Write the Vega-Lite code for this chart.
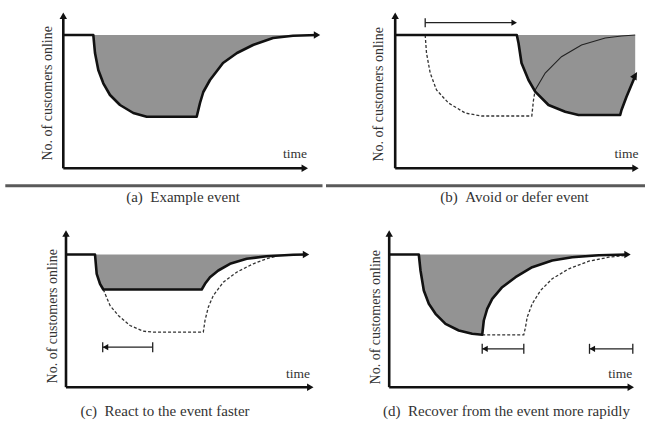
{
  "$schema": "https://vega.github.io/schema/vega-lite/v6.json",
  "padding": 0,
  "spacing": 0,
  "config": {"view": {"stroke": null}, "concat": {"spacing": 0}},
  "datasets": {
    "fig": [
    {"p":"a","s":"frame","t":-63.3,"n":-45.2},{"p":"a","s":"frame","t":259.2,"n":168.3},
    {"p":"b","s":"frame","t":-69.2,"n":-45.2},{"p":"b","s":"frame","t":253.3,"n":168.3},
    {"p":"c","s":"frame","t":-66,"n":-40.3},{"p":"c","s":"frame","t":256.5,"n":173.2},
    {"p":"d","s":"frame","t":-66.2,"n":-40.3},{"p":"d","s":"frame","t":256.3,"n":173.2},

    {"p":"a","s":"thick","t":0,"n":133.3},{"p":"a","s":"thick","t":30,"n":133.3},{"p":"a","s":"thick","t":31.7,"n":115.3},{"p":"a","s":"thick","t":35,"n":98.3},{"p":"a","s":"thick","t":40,"n":85},{"p":"a","s":"thick","t":46.7,"n":73.3},{"p":"a","s":"thick","t":56.7,"n":63.3},{"p":"a","s":"thick","t":70,"n":55.3},{"p":"a","s":"thick","t":83.4,"n":51.6},{"p":"a","s":"thick","t":133.4,"n":51.6},{"p":"a","s":"thick","t":136.7,"n":65.3},{"p":"a","s":"thick","t":140,"n":76.3},{"p":"a","s":"thick","t":146.7,"n":88.3},{"p":"a","s":"thick","t":159.7,"n":105.3},{"p":"a","s":"thick","t":173.7,"n":115.3},{"p":"a","s":"thick","t":189.7,"n":123.3},{"p":"a","s":"thick","t":209.7,"n":130.3},{"p":"a","s":"thick","t":229.7,"n":132.6},{"p":"a","s":"thick","t":254,"n":133.3},

    {"p":"a","s":"hatch","t":30,"n":133.3,"b":133.3},{"p":"a","s":"hatch","t":31.7,"n":115.3,"b":133.3},{"p":"a","s":"hatch","t":35,"n":98.3,"b":133.3},{"p":"a","s":"hatch","t":40,"n":85,"b":133.3},{"p":"a","s":"hatch","t":46.7,"n":73.3,"b":133.3},{"p":"a","s":"hatch","t":56.7,"n":63.3,"b":133.3},{"p":"a","s":"hatch","t":70,"n":55.3,"b":133.3},{"p":"a","s":"hatch","t":83.4,"n":51.6,"b":133.3},{"p":"a","s":"hatch","t":133.4,"n":51.6,"b":133.3},{"p":"a","s":"hatch","t":136.7,"n":65.3,"b":133.3},{"p":"a","s":"hatch","t":140,"n":76.3,"b":133.3},{"p":"a","s":"hatch","t":146.7,"n":88.3,"b":133.3},{"p":"a","s":"hatch","t":159.7,"n":105.3,"b":133.3},{"p":"a","s":"hatch","t":173.7,"n":115.3,"b":133.3},{"p":"a","s":"hatch","t":189.7,"n":123.3,"b":133.3},{"p":"a","s":"hatch","t":209.7,"n":130.3,"b":133.3},{"p":"a","s":"hatch","t":229.7,"n":132.6,"b":133.3},{"p":"a","s":"hatch","t":254,"n":133.3,"b":133.3},

    {"p":"a","s":"axis","t":0,"n":0,"t2":0,"n2":152},{"p":"a","s":"axis","t":0,"n":0,"t2":242,"n2":0},
    {"p":"a","s":"head","t":0,"n":152.5,"d":"up"},{"p":"a","s":"head","t":241.5,"n":0,"d":"right"},{"p":"a","s":"head","t":253.7,"n":133.3,"d":"right"},
    {"p":"a","s":"sep","t":-58,"n":-17.4,"t2":259.2,"n2":-17.4},
    {"p":"a","s":"time","t":243.7,"n":10.3,"label":"time"},
    {"p":"a","s":"ytitle","t":-15.3,"n":75,"label":"No. of customers online"},
    {"p":"a","s":"cap","t":119.7,"n":-28.7,"label":"(a) \u00a0Example event"},

    {"p":"b","s":"thick","t":0,"n":133.3},{"p":"b","s":"thick","t":121.6,"n":133.3},{"p":"b","s":"thick","t":123.3,"n":125.3},{"p":"b","s":"thick","t":126.3,"n":105.3},{"p":"b","s":"thick","t":133.3,"n":88.3},{"p":"b","s":"thick","t":140,"n":76.6},{"p":"b","s":"thick","t":153.3,"n":63.3},{"p":"b","s":"thick","t":170,"n":56.6},{"p":"b","s":"thick","t":183.3,"n":53.3},{"p":"b","s":"thick","t":225,"n":53.3},{"p":"b","s":"thick","t":226.3,"n":58.3},{"p":"b","s":"thick","t":231.3,"n":71.6},{"p":"b","s":"thick","t":238.3,"n":88.3},{"p":"b","s":"thick","t":240,"n":92.5},

    {"p":"b","s":"hatch","t":121.6,"n":133.3,"b":133.3},{"p":"b","s":"hatch","t":123.3,"n":125.3,"b":133.3},{"p":"b","s":"hatch","t":126.3,"n":105.3,"b":133.3},{"p":"b","s":"hatch","t":133.3,"n":88.3,"b":133.3},{"p":"b","s":"hatch","t":140,"n":76.6,"b":133.3},{"p":"b","s":"hatch","t":153.3,"n":63.3,"b":133.3},{"p":"b","s":"hatch","t":170,"n":56.6,"b":133.3},{"p":"b","s":"hatch","t":183.3,"n":53.3,"b":133.3},{"p":"b","s":"hatch","t":225,"n":53.3,"b":133.3},{"p":"b","s":"hatch","t":226.3,"n":58.3,"b":133.3},{"p":"b","s":"hatch","t":231.3,"n":71.6,"b":133.3},{"p":"b","s":"hatch","t":238.3,"n":88.3,"b":133.3},{"p":"b","s":"hatch","t":240,"n":92.5,"b":133.3},

    {"p":"b","s":"dashed","t":30,"n":133.3},{"p":"b","s":"dashed","t":31.3,"n":115.3},{"p":"b","s":"dashed","t":35,"n":95.3},{"p":"b","s":"dashed","t":41.3,"n":78.3},{"p":"b","s":"dashed","t":53.3,"n":65.3},{"p":"b","s":"dashed","t":70,"n":55.3},{"p":"b","s":"dashed","t":86.3,"n":52.3},{"p":"b","s":"dashed","t":136.6,"n":52.3},{"p":"b","s":"dashed","t":138.3,"n":68.3},{"p":"b","s":"dashed","t":140,"n":78.3},
    {"p":"b","s":"thin","t":140,"n":78.3},{"p":"b","s":"thin","t":150,"n":95.3},{"p":"b","s":"thin","t":166.3,"n":111.6},{"p":"b","s":"thin","t":186.3,"n":123.3},{"p":"b","s":"thin","t":210,"n":130.3},{"p":"b","s":"thin","t":226.3,"n":132.3},{"p":"b","s":"thin","t":240,"n":133.3},

    {"p":"b","s":"axis","t":0,"n":0,"t2":0,"n2":152},{"p":"b","s":"axis","t":0,"n":0,"t2":240.5,"n2":0},
    {"p":"b","s":"arr","t":30,"n":145.6,"t2":119,"n2":145.6},{"p":"b","s":"arr","t":30,"n":141,"t2":30,"n2":150},
    {"p":"b","s":"head","t":0,"n":152.5,"d":"up"},{"p":"b","s":"head","t":240.3,"n":0,"d":"right"},{"p":"b","s":"head","t":240,"n":93,"d":"upright"},
    {"p":"b","s":"smallhead","t":119,"n":145.6,"d":"right"},
    {"p":"b","s":"sep","t":-69.2,"n":-17.4,"t2":253.3,"n2":-17.4},
    {"p":"b","s":"time","t":243.3,"n":10,"label":"time"},
    {"p":"b","s":"ytitle","t":-16.7,"n":74,"label":"No. of customers online"},
    {"p":"b","s":"cap","t":119.3,"n":-28.7,"label":"(b) \u00a0Avoid or defer event"},

    {"p":"c","s":"thick","t":0,"n":132.7},{"p":"c","s":"thick","t":29,"n":132.7},{"p":"c","s":"thick","t":30.7,"n":113.4},{"p":"c","s":"thick","t":34,"n":103.4},{"p":"c","s":"thick","t":37.3,"n":97.7},{"p":"c","s":"thick","t":135.7,"n":97.7},{"p":"c","s":"thick","t":139,"n":103.4},{"p":"c","s":"thick","t":144,"n":110},{"p":"c","s":"thick","t":152.3,"n":116.7},{"p":"c","s":"thick","t":164,"n":123.4},{"p":"c","s":"thick","t":180.7,"n":128.4},{"p":"c","s":"thick","t":200.7,"n":131},{"p":"c","s":"thick","t":227.3,"n":132.4},{"p":"c","s":"thick","t":240,"n":132.7},

    {"p":"c","s":"hatch","t":29,"n":132.7,"b":132.7},{"p":"c","s":"hatch","t":30.7,"n":113.4,"b":132.7},{"p":"c","s":"hatch","t":34,"n":103.4,"b":132.7},{"p":"c","s":"hatch","t":37.3,"n":97.7,"b":132.7},{"p":"c","s":"hatch","t":135.7,"n":97.7,"b":132.7},{"p":"c","s":"hatch","t":139,"n":103.4,"b":132.7},{"p":"c","s":"hatch","t":144,"n":110,"b":132.7},{"p":"c","s":"hatch","t":152.3,"n":116.7,"b":132.7},{"p":"c","s":"hatch","t":164,"n":123.4,"b":132.7},{"p":"c","s":"hatch","t":180.7,"n":128.4,"b":132.7},{"p":"c","s":"hatch","t":200.7,"n":131,"b":132.7},{"p":"c","s":"hatch","t":227.3,"n":132.4,"b":132.7},{"p":"c","s":"hatch","t":240,"n":132.7,"b":132.7},

    {"p":"c","s":"dashed","t":37.3,"n":97.7},{"p":"c","s":"dashed","t":44,"n":81.7},{"p":"c","s":"dashed","t":52.3,"n":71.7},{"p":"c","s":"dashed","t":64,"n":61.7},{"p":"c","s":"dashed","t":77.3,"n":56},{"p":"c","s":"dashed","t":87.3,"n":55},{"p":"c","s":"dashed","t":137.3,"n":55},{"p":"c","s":"dashed","t":139,"n":66.7},{"p":"c","s":"dashed","t":142.3,"n":80},{"p":"c","s":"dashed","t":147.3,"n":91.7},{"p":"c","s":"dashed","t":157.3,"n":105},{"p":"c","s":"dashed","t":170.7,"n":115},{"p":"c","s":"dashed","t":187.3,"n":123.4},{"p":"c","s":"dashed","t":200.7,"n":128.4},{"p":"c","s":"dashed","t":210.7,"n":131},

    {"p":"c","s":"axis","t":0,"n":0,"t2":0,"n2":153.7},{"p":"c","s":"axis","t":0,"n":0,"t2":244.3,"n2":0},
    {"p":"c","s":"arr","t":36.7,"n":40,"t2":86.7,"n2":40},{"p":"c","s":"arr","t":36.7,"n":35,"t2":36.7,"n2":45},{"p":"c","s":"arr","t":86.7,"n":35,"t2":86.7,"n2":45},
    {"p":"c","s":"head","t":0,"n":153.7,"d":"up"},{"p":"c","s":"head","t":244.3,"n":0,"d":"right"},{"p":"c","s":"head","t":240,"n":132.7,"d":"right"},
    {"p":"c","s":"smallhead","t":39.5,"n":40,"d":"left"},
    {"p":"c","s":"time","t":244,"n":9,"label":"time"},
    {"p":"c","s":"ytitle","t":-13,"n":71,"label":"No. of customers online"},
    {"p":"c","s":"cap","t":99,"n":-23.3,"label":"(c) \u00a0React to the event faster"},

    {"p":"d","s":"thick","t":0,"n":132.7},{"p":"d","s":"thick","t":29.6,"n":132.7},{"p":"d","s":"thick","t":31.3,"n":116.7},{"p":"d","s":"thick","t":34.6,"n":96.7},{"p":"d","s":"thick","t":39.6,"n":83.4},{"p":"d","s":"thick","t":46.3,"n":73.4},{"p":"d","s":"thick","t":56.3,"n":63.4},{"p":"d","s":"thick","t":69.6,"n":56.7},{"p":"d","s":"thick","t":83,"n":53.4},{"p":"d","s":"thick","t":93,"n":52.4},{"p":"d","s":"thick","t":94.6,"n":66.7},{"p":"d","s":"thick","t":98,"n":78.4},{"p":"d","s":"thick","t":103,"n":88.4},{"p":"d","s":"thick","t":113,"n":100},{"p":"d","s":"thick","t":126.3,"n":110},{"p":"d","s":"thick","t":143,"n":120},{"p":"d","s":"thick","t":163,"n":126.7},{"p":"d","s":"thick","t":183,"n":130},{"p":"d","s":"thick","t":209.6,"n":132},{"p":"d","s":"thick","t":238.3,"n":132.7},

    {"p":"d","s":"hatch","t":29.6,"n":132.7,"b":132.7},{"p":"d","s":"hatch","t":31.3,"n":116.7,"b":132.7},{"p":"d","s":"hatch","t":34.6,"n":96.7,"b":132.7},{"p":"d","s":"hatch","t":39.6,"n":83.4,"b":132.7},{"p":"d","s":"hatch","t":46.3,"n":73.4,"b":132.7},{"p":"d","s":"hatch","t":56.3,"n":63.4,"b":132.7},{"p":"d","s":"hatch","t":69.6,"n":56.7,"b":132.7},{"p":"d","s":"hatch","t":83,"n":53.4,"b":132.7},{"p":"d","s":"hatch","t":93,"n":52.4,"b":132.7},{"p":"d","s":"hatch","t":94.6,"n":66.7,"b":132.7},{"p":"d","s":"hatch","t":98,"n":78.4,"b":132.7},{"p":"d","s":"hatch","t":103,"n":88.4,"b":132.7},{"p":"d","s":"hatch","t":113,"n":100,"b":132.7},{"p":"d","s":"hatch","t":126.3,"n":110,"b":132.7},{"p":"d","s":"hatch","t":143,"n":120,"b":132.7},{"p":"d","s":"hatch","t":163,"n":126.7,"b":132.7},{"p":"d","s":"hatch","t":183,"n":130,"b":132.7},{"p":"d","s":"hatch","t":209.6,"n":132,"b":132.7},{"p":"d","s":"hatch","t":238.3,"n":132.7,"b":132.7},

    {"p":"d","s":"dashed","t":93,"n":52.4},{"p":"d","s":"dashed","t":134.6,"n":52.4},{"p":"d","s":"dashed","t":136.3,"n":60},{"p":"d","s":"dashed","t":138,"n":70},{"p":"d","s":"dashed","t":143,"n":83.4},{"p":"d","s":"dashed","t":151.3,"n":96.7},{"p":"d","s":"dashed","t":163,"n":108.4},{"p":"d","s":"dashed","t":179.6,"n":118.4},{"p":"d","s":"dashed","t":199.6,"n":126},{"p":"d","s":"dashed","t":219.6,"n":130},{"p":"d","s":"dashed","t":236.3,"n":131.7},

    {"p":"d","s":"axis","t":0,"n":0,"t2":0,"n2":153.7},{"p":"d","s":"axis","t":0,"n":0,"t2":241.6,"n2":0},
    {"p":"d","s":"arr","t":93,"n":38.4,"t2":134.6,"n2":38.4},{"p":"d","s":"arr","t":93,"n":33.4,"t2":93,"n2":43.4},{"p":"d","s":"arr","t":134.6,"n":33.4,"t2":134.6,"n2":43.4},
    {"p":"d","s":"arr","t":200.3,"n":38.4,"t2":243.6,"n2":38.4},{"p":"d","s":"arr","t":200.3,"n":33.4,"t2":200.3,"n2":43.4},{"p":"d","s":"arr","t":243.6,"n":33.4,"t2":243.6,"n2":43.4},
    {"p":"d","s":"head","t":0,"n":153.7,"d":"up"},{"p":"d","s":"head","t":241.6,"n":0,"d":"right"},{"p":"d","s":"head","t":238.3,"n":132.7,"d":"right"},
    {"p":"d","s":"smallhead","t":95.8,"n":38.4,"d":"left"},{"p":"d","s":"smallhead","t":203.1,"n":38.4,"d":"left"},
    {"p":"d","s":"time","t":243,"n":9.7,"label":"time"},
    {"p":"d","s":"ytitle","t":-13.7,"n":70,"label":"No. of customers online"},
    {"p":"d","s":"cap","t":117.3,"n":-23.3,"label":"(d) \u00a0Recover from the event more rapidly"}
    ]
  },
  "data": {"name": "fig"},
  "vconcat": [
    {"hconcat": [
      {"width": 322.5, "height": 213.5, "transform": [{"filter": {"field": "p", "equal": "a"}}],
       "encoding": {"x": {"field": "t", "type": "quantitative", "axis": null, "scale": {"zero": false, "nice": false}}, "y": {"field": "n", "type": "quantitative", "axis": null, "scale": {"zero": false, "nice": false}}},
       "layer": [
        {"transform": [{"filter": {"field": "s", "equal": "frame"}}], "mark": {"type": "point", "opacity": 0, "size": 0, "strokeWidth": 0}},
        {"transform": [{"filter": {"field": "s", "equal": "hatch"}}], "mark": {"type": "area", "color": "#939393", "opacity": 1}, "encoding": {"y2": {"field": "b"}}},
        {"transform": [{"filter": {"field": "s", "equal": "sep"}}], "mark": {"type": "rule", "color": "#5a5a5a", "strokeWidth": 3}, "encoding": {"x2": {"field": "t2"}, "y2": {"field": "n2"}}},
        {"transform": [{"filter": {"field": "s", "equal": "thick"}}], "mark": {"type": "line", "color": "#111", "strokeWidth": 2.6, "strokeJoin": "round"}},
        {"transform": [{"filter": {"field": "s", "equal": "axis"}}], "mark": {"type": "rule", "color": "#111", "strokeWidth": 2.6}, "encoding": {"x2": {"field": "t2"}, "y2": {"field": "n2"}}},
        {"transform": [{"filter": {"field": "s", "equal": "head"}}], "mark": {"type": "point", "filled": true, "color": "#111", "opacity": 1, "size": 55}, "encoding": {"shape": {"field": "d", "type": "nominal", "legend": null, "scale": {"domain": ["up", "right", "left", "upright"], "range": ["triangle-up", "triangle-right", "triangle-left", "M0.5,-0.87L0.37,1.37L-1.37,0.37Z"]}}}},
        {"transform": [{"filter": {"field": "s", "equal": "time"}}], "mark": {"type": "text", "font": "Liberation Serif", "fontSize": 13.5, "align": "right", "baseline": "alphabetic", "color": "#333"}, "encoding": {"text": {"field": "label"}}},
        {"transform": [{"filter": {"field": "s", "equal": "ytitle"}}], "mark": {"type": "text", "font": "Liberation Serif", "fontSize": 14, "angle": 270, "align": "center", "baseline": "middle", "color": "#333"}, "encoding": {"text": {"field": "label"}}},
        {"transform": [{"filter": {"field": "s", "equal": "cap"}}], "mark": {"type": "text", "font": "Liberation Serif", "fontSize": 15, "align": "center", "baseline": "middle", "color": "#333"}, "encoding": {"text": {"field": "label"}}}
       ]},
      {"width": 322.5, "height": 213.5, "transform": [{"filter": {"field": "p", "equal": "b"}}],
       "encoding": {"x": {"field": "t", "type": "quantitative", "axis": null, "scale": {"zero": false, "nice": false}}, "y": {"field": "n", "type": "quantitative", "axis": null, "scale": {"zero": false, "nice": false}}},
       "layer": [
        {"transform": [{"filter": {"field": "s", "equal": "frame"}}], "mark": {"type": "point", "opacity": 0, "size": 0, "strokeWidth": 0}},
        {"transform": [{"filter": {"field": "s", "equal": "hatch"}}], "mark": {"type": "area", "color": "#939393", "opacity": 1}, "encoding": {"y2": {"field": "b"}}},
        {"transform": [{"filter": {"field": "s", "equal": "sep"}}], "mark": {"type": "rule", "color": "#5a5a5a", "strokeWidth": 3}, "encoding": {"x2": {"field": "t2"}, "y2": {"field": "n2"}}},
        {"transform": [{"filter": {"field": "s", "equal": "thin"}}], "mark": {"type": "line", "color": "#222", "strokeWidth": 1.1}},
        {"transform": [{"filter": {"field": "s", "equal": "dashed"}}], "mark": {"type": "line", "color": "#333", "strokeWidth": 1.3, "strokeDash": [3, 2]}},
        {"transform": [{"filter": {"field": "s", "equal": "thick"}}], "mark": {"type": "line", "color": "#111", "strokeWidth": 2.6, "strokeJoin": "round"}},
        {"transform": [{"filter": {"field": "s", "equal": "axis"}}], "mark": {"type": "rule", "color": "#111", "strokeWidth": 2.6}, "encoding": {"x2": {"field": "t2"}, "y2": {"field": "n2"}}},
        {"transform": [{"filter": {"field": "s", "equal": "arr"}}], "mark": {"type": "rule", "color": "#222", "strokeWidth": 1.3}, "encoding": {"x2": {"field": "t2"}, "y2": {"field": "n2"}}},
        {"transform": [{"filter": {"field": "s", "equal": "head"}}], "mark": {"type": "point", "filled": true, "color": "#111", "opacity": 1, "size": 55}, "encoding": {"shape": {"field": "d", "type": "nominal", "legend": null, "scale": {"domain": ["up", "right", "left", "upright"], "range": ["triangle-up", "triangle-right", "triangle-left", "M0.5,-0.87L0.37,1.37L-1.37,0.37Z"]}}}},
        {"transform": [{"filter": {"field": "s", "equal": "smallhead"}}], "mark": {"type": "point", "filled": true, "color": "#111", "opacity": 1, "size": 40}, "encoding": {"shape": {"field": "d", "type": "nominal", "legend": null, "scale": {"domain": ["up", "right", "left", "upright"], "range": ["triangle-up", "triangle-right", "triangle-left", "M0.5,-0.87L0.37,1.37L-1.37,0.37Z"]}}}},
        {"transform": [{"filter": {"field": "s", "equal": "time"}}], "mark": {"type": "text", "font": "Liberation Serif", "fontSize": 13.5, "align": "right", "baseline": "alphabetic", "color": "#333"}, "encoding": {"text": {"field": "label"}}},
        {"transform": [{"filter": {"field": "s", "equal": "ytitle"}}], "mark": {"type": "text", "font": "Liberation Serif", "fontSize": 14, "angle": 270, "align": "center", "baseline": "middle", "color": "#333"}, "encoding": {"text": {"field": "label"}}},
        {"transform": [{"filter": {"field": "s", "equal": "cap"}}], "mark": {"type": "text", "font": "Liberation Serif", "fontSize": 15, "align": "center", "baseline": "middle", "color": "#333"}, "encoding": {"text": {"field": "label"}}}
       ]}
    ]},
    {"hconcat": [
      {"width": 322.5, "height": 213.5, "transform": [{"filter": {"field": "p", "equal": "c"}}],
       "encoding": {"x": {"field": "t", "type": "quantitative", "axis": null, "scale": {"zero": false, "nice": false}}, "y": {"field": "n", "type": "quantitative", "axis": null, "scale": {"zero": false, "nice": false}}},
       "layer": [
        {"transform": [{"filter": {"field": "s", "equal": "frame"}}], "mark": {"type": "point", "opacity": 0, "size": 0, "strokeWidth": 0}},
        {"transform": [{"filter": {"field": "s", "equal": "hatch"}}], "mark": {"type": "area", "color": "#939393", "opacity": 1}, "encoding": {"y2": {"field": "b"}}},
        {"transform": [{"filter": {"field": "s", "equal": "dashed"}}], "mark": {"type": "line", "color": "#333", "strokeWidth": 1.3, "strokeDash": [3, 2]}},
        {"transform": [{"filter": {"field": "s", "equal": "thick"}}], "mark": {"type": "line", "color": "#111", "strokeWidth": 2.6, "strokeJoin": "round"}},
        {"transform": [{"filter": {"field": "s", "equal": "axis"}}], "mark": {"type": "rule", "color": "#111", "strokeWidth": 2.6}, "encoding": {"x2": {"field": "t2"}, "y2": {"field": "n2"}}},
        {"transform": [{"filter": {"field": "s", "equal": "arr"}}], "mark": {"type": "rule", "color": "#222", "strokeWidth": 1.3}, "encoding": {"x2": {"field": "t2"}, "y2": {"field": "n2"}}},
        {"transform": [{"filter": {"field": "s", "equal": "head"}}], "mark": {"type": "point", "filled": true, "color": "#111", "opacity": 1, "size": 55}, "encoding": {"shape": {"field": "d", "type": "nominal", "legend": null, "scale": {"domain": ["up", "right", "left", "upright"], "range": ["triangle-up", "triangle-right", "triangle-left", "M0.5,-0.87L0.37,1.37L-1.37,0.37Z"]}}}},
        {"transform": [{"filter": {"field": "s", "equal": "smallhead"}}], "mark": {"type": "point", "filled": true, "color": "#111", "opacity": 1, "size": 40}, "encoding": {"shape": {"field": "d", "type": "nominal", "legend": null, "scale": {"domain": ["up", "right", "left", "upright"], "range": ["triangle-up", "triangle-right", "triangle-left", "M0.5,-0.87L0.37,1.37L-1.37,0.37Z"]}}}},
        {"transform": [{"filter": {"field": "s", "equal": "time"}}], "mark": {"type": "text", "font": "Liberation Serif", "fontSize": 13.5, "align": "right", "baseline": "alphabetic", "color": "#333"}, "encoding": {"text": {"field": "label"}}},
        {"transform": [{"filter": {"field": "s", "equal": "ytitle"}}], "mark": {"type": "text", "font": "Liberation Serif", "fontSize": 14, "angle": 270, "align": "center", "baseline": "middle", "color": "#333"}, "encoding": {"text": {"field": "label"}}},
        {"transform": [{"filter": {"field": "s", "equal": "cap"}}], "mark": {"type": "text", "font": "Liberation Serif", "fontSize": 15, "align": "center", "baseline": "middle", "color": "#333"}, "encoding": {"text": {"field": "label"}}}
       ]},
      {"width": 322.5, "height": 213.5, "transform": [{"filter": {"field": "p", "equal": "d"}}],
       "encoding": {"x": {"field": "t", "type": "quantitative", "axis": null, "scale": {"zero": false, "nice": false}}, "y": {"field": "n", "type": "quantitative", "axis": null, "scale": {"zero": false, "nice": false}}},
       "layer": [
        {"transform": [{"filter": {"field": "s", "equal": "frame"}}], "mark": {"type": "point", "opacity": 0, "size": 0, "strokeWidth": 0}},
        {"transform": [{"filter": {"field": "s", "equal": "hatch"}}], "mark": {"type": "area", "color": "#939393", "opacity": 1}, "encoding": {"y2": {"field": "b"}}},
        {"transform": [{"filter": {"field": "s", "equal": "dashed"}}], "mark": {"type": "line", "color": "#333", "strokeWidth": 1.3, "strokeDash": [3, 2]}},
        {"transform": [{"filter": {"field": "s", "equal": "thick"}}], "mark": {"type": "line", "color": "#111", "strokeWidth": 2.6, "strokeJoin": "round"}},
        {"transform": [{"filter": {"field": "s", "equal": "axis"}}], "mark": {"type": "rule", "color": "#111", "strokeWidth": 2.6}, "encoding": {"x2": {"field": "t2"}, "y2": {"field": "n2"}}},
        {"transform": [{"filter": {"field": "s", "equal": "arr"}}], "mark": {"type": "rule", "color": "#222", "strokeWidth": 1.3}, "encoding": {"x2": {"field": "t2"}, "y2": {"field": "n2"}}},
        {"transform": [{"filter": {"field": "s", "equal": "head"}}], "mark": {"type": "point", "filled": true, "color": "#111", "opacity": 1, "size": 55}, "encoding": {"shape": {"field": "d", "type": "nominal", "legend": null, "scale": {"domain": ["up", "right", "left", "upright"], "range": ["triangle-up", "triangle-right", "triangle-left", "M0.5,-0.87L0.37,1.37L-1.37,0.37Z"]}}}},
        {"transform": [{"filter": {"field": "s", "equal": "smallhead"}}], "mark": {"type": "point", "filled": true, "color": "#111", "opacity": 1, "size": 40}, "encoding": {"shape": {"field": "d", "type": "nominal", "legend": null, "scale": {"domain": ["up", "right", "left", "upright"], "range": ["triangle-up", "triangle-right", "triangle-left", "M0.5,-0.87L0.37,1.37L-1.37,0.37Z"]}}}},
        {"transform": [{"filter": {"field": "s", "equal": "time"}}], "mark": {"type": "text", "font": "Liberation Serif", "fontSize": 13.5, "align": "right", "baseline": "alphabetic", "color": "#333"}, "encoding": {"text": {"field": "label"}}},
        {"transform": [{"filter": {"field": "s", "equal": "ytitle"}}], "mark": {"type": "text", "font": "Liberation Serif", "fontSize": 14, "angle": 270, "align": "center", "baseline": "middle", "color": "#333"}, "encoding": {"text": {"field": "label"}}},
        {"transform": [{"filter": {"field": "s", "equal": "cap"}}], "mark": {"type": "text", "font": "Liberation Serif", "fontSize": 15, "align": "center", "baseline": "middle", "color": "#333"}, "encoding": {"text": {"field": "label"}}}
       ]}
    ]}
  ]
}
